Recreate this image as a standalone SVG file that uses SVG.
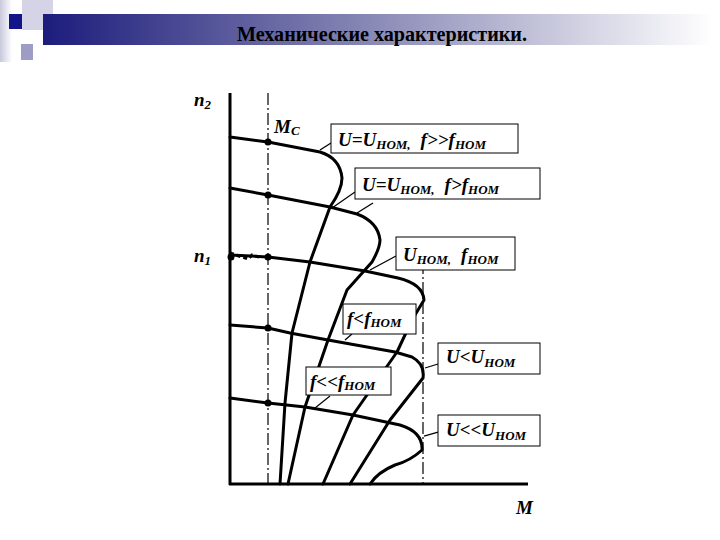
<svg xmlns="http://www.w3.org/2000/svg" width="720" height="540" viewBox="0 0 720 540">
<defs>
<linearGradient id="bar" x1="0" x2="1" y1="0" y2="0"><stop offset="0" stop-color="#1c1c7c"/><stop offset="0.45" stop-color="#8080b0"/><stop offset="1" stop-color="#ffffff"/></linearGradient>
<linearGradient id="lft" x1="0" x2="1"><stop offset="0" stop-color="#c8c8dc"/><stop offset="1" stop-color="#ffffff"/></linearGradient>
</defs>
<style>
.c{fill:none;stroke:#000;stroke-width:3;stroke-linejoin:round;stroke-linecap:round}
.ax{fill:none;stroke:#000;stroke-width:3}
.d{fill:none;stroke:#000;stroke-width:1.2;stroke-dasharray:12 3 2 3}
.b{fill:#fff;stroke:#000;stroke-width:1}
.l{fill:none;stroke:#000;stroke-width:1.3}
.t{font-family:'Liberation Serif','Times New Roman',serif;font-style:italic;font-weight:bold;font-size:19px}
.s{font-size:13px}
</style>
<rect width="720" height="540" fill="#fff"/>
<g id="deco">
<rect x="0" y="0" width="12" height="62" fill="url(#lft)"/>
<rect x="22" y="0" width="31" height="30" fill="#d4d4e6"/>
<rect x="43" y="14" width="670" height="31" fill="url(#bar)"/>
<rect x="9" y="14" width="13" height="15" fill="#14148a"/>
<rect x="21" y="44" width="12" height="16" fill="#9c9cc4"/>
</g>
<text x="382" y="41" text-anchor="middle" font-family="'Liberation Serif','Times New Roman',serif" font-weight="bold" font-size="20" textLength="290" lengthAdjust="spacingAndGlyphs">Механические характеристики.</text>
<g id="axes">
<line class="ax" x1="230" y1="93" x2="230" y2="485"/>
<line class="ax" x1="229" y1="484" x2="528" y2="484"/>
<line class="d" x1="268" y1="93" x2="268" y2="484"/>
<line class="d" x1="423" y1="262" x2="423" y2="484"/>
</g>
<g id="connectors">
<path class="c" d="M230,137 L268,142 L320,152 Q340,158 342,178 Q342,190 330,207 L310,262 L292,333 L285,403 L280,484"/>
<path class="c" d="M230,188 L268,195 L330,207 L357,214 Q378,222 380,240 Q380,248 372,262 L347,290 L328,340 L305,407 L288,484"/>
<path class="c" d="M230,255 L268,257 L310,262 L365,271 L398,278 Q423,284 424,300 L412,320 L397,352 L353,415 L323,484"/>
<path class="c" d="M230,325 L268,328 L290,333 L328,340 L395,352 L412,357 Q425,364 423,378 L390,420 L350,484"/>
<path class="c" d="M230,398 L268,403 L305,407 L353,415 L400,425 Q423,432 422,450 Q410,461 395,465 Q378,472 370,484"/>
<path d="M230,253 L248,259 L252,255 L262,258" fill="none" stroke="#000" stroke-width="3" stroke-dasharray="4 3"/>
<g fill="#000">
<circle cx="268" cy="142" r="3.5"/><circle cx="268" cy="195" r="3.5"/><circle cx="268" cy="257" r="3.5"/><circle cx="268" cy="328" r="3.5"/><circle cx="268" cy="403" r="3.5"/><circle cx="231" cy="257" r="3.5"/>
</g>
<line class="l" x1="320" y1="150" x2="331" y2="143"/>
<line class="l" x1="332" y1="208" x2="355" y2="192"/>
<line class="l" x1="357" y1="213" x2="373" y2="203"/>
<line class="l" x1="370" y1="270" x2="396" y2="256"/>
<line class="l" x1="345" y1="340" x2="352" y2="334"/>
<line class="l" x1="315" y1="408" x2="330" y2="396"/>
<line class="l" x1="425" y1="368" x2="438" y2="364"/>
<line class="l" x1="424" y1="436" x2="438" y2="432"/>
</g>
<g id="labels">
<g id="box1"><rect class="b" x="331" y="124" width="187" height="29"/><text class="t" x="338" y="146">U=U<tspan class="s" dy="3">НОМ,</tspan><tspan dx="10" dy="-3">f&gt;&gt;f</tspan><tspan class="s" dy="3">НОМ</tspan></text></g>
<g id="box2"><rect class="b" x="355" y="168" width="185" height="31"/><text class="t" x="362" y="191" font-weight="normal">U=U<tspan class="s" dy="3">НОМ,</tspan><tspan dx="10" dy="-3">f&gt;f</tspan><tspan class="s" dy="3">НОМ</tspan></text></g>
<g id="box3"><rect class="b" x="396" y="237" width="119" height="33"/><text class="t" x="403" y="261">U<tspan class="s" dy="3">НОМ,</tspan><tspan dx="10" dy="-3">f</tspan><tspan class="s" dy="3">НОМ</tspan></text></g>
<g id="box4"><rect class="b" x="343" y="304" width="73" height="30"/><text class="t" x="347" y="325" font-weight="normal">f&lt;f<tspan class="s" dy="2">НОМ</tspan></text></g>
<g id="box5"><rect class="b" x="306" y="367" width="85" height="28"/><text class="t" x="310" y="388" font-weight="normal">f&lt;&lt;f<tspan class="s" dy="2">НОМ</tspan></text></g>
<g id="box6"><rect class="b" x="438" y="343" width="102" height="31"/><text class="t" x="446" y="363" font-weight="normal">U&lt;U<tspan class="s" dy="4">НОМ</tspan></text></g>
<g id="box7"><rect class="b" x="438" y="415" width="102" height="31"/><text class="t" x="446" y="436" font-weight="normal">U&lt;&lt;U<tspan class="s" dy="4">НОМ</tspan></text></g>
<text class="t" x="194" y="106">n<tspan class="s" dy="3">2</tspan></text>
<text class="t" x="194" y="262">n<tspan class="s" dy="3">1</tspan></text>
<text class="t" x="274" y="133">M<tspan class="s" dy="2">C</tspan></text>
<text class="t" x="516" y="514">M</text>
</g>
</svg>
